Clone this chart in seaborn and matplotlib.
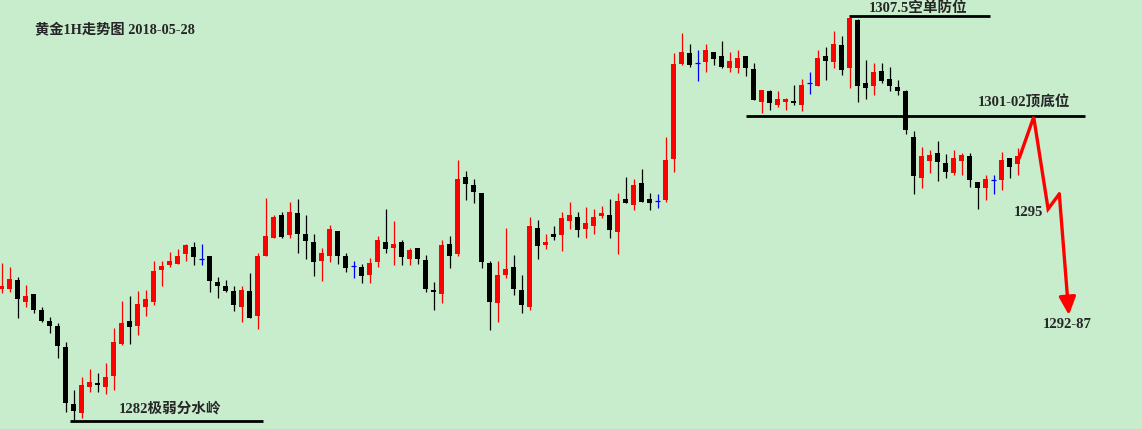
import numpy as np
import pandas as pd
import matplotlib
matplotlib.use("Agg")
import matplotlib.pyplot as plt
import seaborn as sns

# 黄金1H K线 (开/高/低/收)
opens = [
    1290.25, 1290.25, 1290.81, 1289.44, 1289.94, 1288.94, 1288.25, 1287.94, 1286.62, 1283.06,
    1282.50, 1284.12, 1284.37, 1284.12, 1284.81, 1286.81, 1288.25, 1287.94, 1289.12, 1289.44,
    1291.44, 1291.75, 1291.81, 1292.44, 1292.87, 1292.12, 1292.31, 1290.69, 1290.44, 1290.12,
    1289.12, 1290.12, 1288.56, 1292.31, 1293.44, 1294.87, 1293.62, 1295.00, 1293.69, 1293.19,
    1292.00, 1292.31, 1293.87, 1292.31, 1291.69, 1291.62, 1291.12, 1291.94, 1293.19, 1292.81,
    1293.19, 1292.12, 1292.81, 1292.06, 1290.19, 1289.94, 1293.06, 1292.44, 1297.25, 1296.75,
    1296.25, 1291.87, 1289.37, 1291.12, 1291.62, 1290.19, 1289.12, 1294.06, 1293.00, 1293.69,
    1293.62, 1294.50, 1294.75, 1294.00, 1294.19, 1294.81, 1294.87, 1293.81, 1295.87, 1295.50,
    1296.87, 1295.87, 1295.75, 1295.81, 1298.37, 1304.31, 1305.00, 1304.37, 1304.44, 1305.06,
    1304.81, 1304.06, 1304.06, 1304.81, 1304.00, 1301.94, 1302.62, 1301.75, 1301.94, 1302.00,
    1301.75, 1303.12, 1302.94, 1304.81, 1304.44, 1305.50, 1304.06, 1307.06, 1303.12, 1302.94,
    1303.87, 1303.37, 1302.87, 1302.62, 1299.75, 1297.19, 1298.25, 1298.75, 1298.12, 1297.50,
    1298.25, 1298.56, 1296.94, 1296.56, 1297.06, 1297.06, 1298.44, 1298.06,
]
highs = [
    1291.87, 1291.62, 1291.00, 1290.50, 1289.94, 1289.12, 1288.50, 1288.12, 1286.94, 1283.94,
    1284.75, 1285.25, 1285.00, 1285.62, 1287.81, 1289.50, 1289.81, 1290.12, 1290.19, 1292.00,
    1292.00, 1292.56, 1292.75, 1293.06, 1293.19, 1293.06, 1292.31, 1291.00, 1290.81, 1290.44,
    1290.44, 1291.25, 1292.50, 1295.94, 1294.87, 1295.06, 1295.69, 1295.87, 1294.87, 1293.69,
    1292.81, 1294.25, 1293.87, 1292.50, 1292.00, 1291.81, 1292.19, 1293.56, 1295.25, 1294.50,
    1293.31, 1292.81, 1292.81, 1292.37, 1290.69, 1293.31, 1293.56, 1298.31, 1297.62, 1297.12,
    1296.25, 1292.00, 1292.00, 1294.06, 1292.37, 1291.12, 1294.75, 1294.56, 1293.69, 1294.19,
    1295.06, 1295.69, 1295.06, 1295.37, 1295.25, 1295.44, 1295.87, 1296.25, 1297.25, 1297.12,
    1297.75, 1296.25, 1296.19, 1299.75, 1305.00, 1306.25, 1305.56, 1305.19, 1305.56, 1305.06,
    1305.75, 1305.06, 1305.19, 1304.81, 1304.37, 1302.69, 1302.69, 1302.62, 1302.19, 1303.00,
    1303.37, 1303.81, 1305.19, 1305.37, 1306.37, 1306.06, 1307.19, 1307.12, 1304.56, 1304.37,
    1304.37, 1304.12, 1303.31, 1302.69, 1300.12, 1299.12, 1298.94, 1299.50, 1298.69, 1298.94,
    1298.75, 1298.75, 1296.94, 1297.37, 1297.37, 1298.81, 1298.44, 1299.06,
]
lows = [
    1290.00, 1290.06, 1288.44, 1289.12, 1288.75, 1288.19, 1287.50, 1285.94, 1282.56, 1282.06,
    1282.19, 1283.81, 1283.81, 1283.69, 1283.94, 1286.75, 1286.81, 1287.37, 1288.56, 1289.25,
    1290.44, 1291.62, 1291.81, 1292.00, 1291.75, 1291.75, 1290.06, 1289.69, 1290.06, 1288.87,
    1288.19, 1288.44, 1287.75, 1292.31, 1293.44, 1293.44, 1293.44, 1292.50, 1292.12, 1291.06,
    1290.75, 1291.94, 1291.81, 1291.31, 1290.94, 1290.62, 1290.62, 1291.62, 1292.50, 1291.75,
    1291.75, 1291.75, 1291.81, 1290.06, 1288.94, 1289.37, 1291.56, 1292.31, 1295.81, 1295.62,
    1291.56, 1287.69, 1288.19, 1290.94, 1289.87, 1288.75, 1288.94, 1292.12, 1292.75, 1293.31,
    1292.62, 1294.00, 1293.50, 1293.44, 1293.69, 1294.69, 1293.44, 1292.44, 1295.62, 1295.19,
    1295.69, 1295.19, 1295.31, 1295.69, 1297.56, 1304.25, 1304.12, 1303.25, 1303.81, 1304.25,
    1304.06, 1303.81, 1303.75, 1303.56, 1302.06, 1301.25, 1301.44, 1301.62, 1301.44, 1301.75,
    1301.37, 1302.44, 1302.94, 1303.31, 1304.06, 1303.62, 1302.81, 1301.94, 1302.12, 1302.37,
    1303.12, 1302.62, 1302.37, 1299.94, 1296.19, 1296.56, 1297.50, 1297.00, 1297.19, 1297.37,
    1297.37, 1296.62, 1295.25, 1295.81, 1296.19, 1296.44, 1297.19, 1297.37,
]
closes = [
    1290.44, 1290.87, 1289.62, 1289.81, 1288.94, 1288.25, 1287.94, 1286.69, 1283.12, 1282.62,
    1284.25, 1284.44, 1284.25, 1284.75, 1286.94, 1288.12, 1287.87, 1289.31, 1289.62, 1291.37,
    1291.69, 1292.00, 1292.31, 1293.00, 1292.25, 1292.12, 1290.75, 1290.44, 1290.12, 1289.25,
    1290.19, 1288.44, 1292.31, 1293.56, 1294.75, 1293.50, 1295.06, 1293.69, 1293.25, 1291.94,
    1292.50, 1294.00, 1292.31, 1291.56, 1291.69, 1291.06, 1291.87, 1293.31, 1292.75, 1293.06,
    1292.25, 1292.69, 1292.12, 1290.25, 1290.06, 1293.00, 1292.31, 1297.12, 1296.81, 1296.31,
    1291.94, 1289.44, 1291.12, 1291.50, 1290.25, 1289.25, 1294.19, 1292.94, 1293.19, 1293.50,
    1294.69, 1294.87, 1293.94, 1294.37, 1294.75, 1295.00, 1293.94, 1295.75, 1295.62, 1296.75,
    1295.69, 1295.62, 1295.75, 1298.31, 1304.31, 1305.06, 1304.25, 1304.37, 1305.19, 1304.62,
    1304.12, 1304.50, 1304.69, 1304.06, 1302.06, 1302.69, 1301.87, 1302.12, 1302.12, 1301.87,
    1303.00, 1303.12, 1304.69, 1304.50, 1305.56, 1303.94, 1307.19, 1302.94, 1302.81, 1303.81,
    1303.25, 1302.94, 1302.62, 1300.19, 1297.31, 1298.56, 1298.62, 1298.19, 1297.56, 1298.44,
    1298.62, 1297.06, 1296.56, 1297.12, 1297.06, 1298.31, 1297.87, 1298.56,
]

# 关键位 (价格, 起止K线序号)
level_prices = [1307.31, 1301.09, 1282.0]
level_start = [105.9, 93.0, 8.5]
level_end = [123.5, 135.4, 32.7]
level_labels = ["1307.5空单防位", "1301-02顶底位", "1282极弱分水岭"]
label_x = [114.5, 127.8, 21.0]
label_y = [1307.81, 1301.87, 1282.75]

# 预测路径
path_x = [127.2, 129.0, 130.8, 132.2, 133.4]
path_y = [1298.44, 1301.0, 1295.25, 1296.19, 1288.62]
path_labels = ["1295", "1292-87"]
path_label_x = [128.4, 133.2]
path_label_y = [1295.0, 1288.06]

title = "黄金1H走势图 2018-05-28"

BG = "#C7EDCC"
FONT = ["Liberation Serif", "Noto Sans CJK SC", "DejaVu Sans"]

df = pd.DataFrame({"open": opens, "high": highs, "low": lows, "close": closes})
df["x"] = np.arange(len(df))
df["color"] = np.where(df["close"] > df["open"], "#FF0000",
                       np.where(df["close"] < df["open"], "#000000", "#0000FF"))

sns.set_style("white")
fig = plt.figure(figsize=(11.42, 4.29), dpi=100)
fig.patch.set_facecolor(BG)
ax = fig.add_axes([0, 0, 1, 1])
ax.set_facecolor(BG)

# 影线
ax.vlines(df["x"], df["low"], df["high"], colors=df["color"], linewidth=0.9)
# 实体
body_w = 0.66
body_bot = df[["open", "close"]].min(axis=1)
body_h = (df["close"] - df["open"]).abs().clip(lower=1 / 16)
solid = df["open"] != df["close"]
ax.bar(df["x"][solid], body_h[solid], bottom=body_bot[solid], width=body_w,
       color=df["color"][solid], linewidth=0)
# 十字星
doji = ~solid
ax.hlines(df["close"][doji], df["x"][doji] - body_w / 2, df["x"][doji] + body_w / 2,
          colors="#0000FF", linewidth=0.9)

# 关键位横线与文字
for p, x0, x1 in zip(level_prices, level_start, level_end):
    ax.hlines(p, x0, x1, colors="black", linewidth=2.0)
for t, x, y in zip(level_labels, label_x, label_y):
    ax.text(x, y, t, ha="center", va="center", fontsize=10.5, fontweight="bold", family=FONT)

# 红色走势箭头
ax.plot(path_x[:-1], path_y[:-1], color="#FF0000", linewidth=2.4, solid_joinstyle="miter")
ax.annotate("", xy=(path_x[-1], path_y[-1]), xytext=(path_x[-2], path_y[-2]),
            arrowprops=dict(arrowstyle="-|>,head_length=0.9,head_width=0.42",
                            color="#FF0000", lw=2.4, mutation_scale=12,
                            shrinkA=0, shrinkB=0))
for t, x, y in zip(path_labels, path_label_x, path_label_y):
    ax.text(x, y, t, ha="center", va="center", fontsize=10.5, fontweight="bold", family=FONT)

fig.text(35 / 1142, 1 - 30 / 429, title, ha="left", va="center",
         fontsize=10.3, fontweight="bold", family=FONT)

ax.set_xlim(-0.2125, -0.2125 + 1142 / 8)
ax.set_ylim(1281.5, 1308.3125)
ax.axis("off")

fig.savefig("out.png", dpi=100, facecolor=BG)
